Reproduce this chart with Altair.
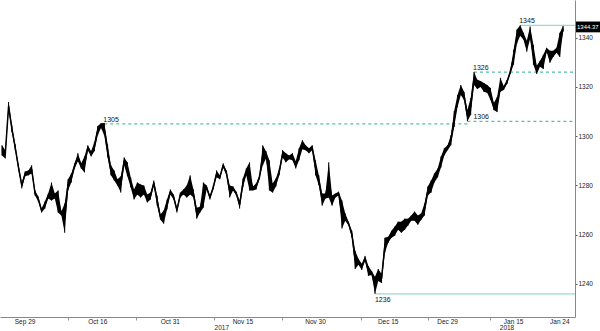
import altair as alt
import pandas as pd

# trading-session index (half-day steps; weekends/holidays removed)
session = [i / 2 for i in range(1, 172)]

high = [
    1296.3, 1294.3, 1313.9, 1304.5, 1296.7, 1288.6, 1281.2, 1285.7, 1286.1, 1288.2,
    1278.0, 1275.5, 1270.6, 1273.5, 1276.7, 1281.2, 1276.7, 1278.0, 1269.4, 1272.7,
    1282.5, 1284.9, 1289.0, 1293.1, 1289.0, 1291.8, 1296.3, 1293.9, 1297.6, 1304.1,
    1305.3, 1305.4, 1296.7, 1288.2, 1286.1, 1282.5, 1283.7, 1291.4, 1289.4, 1283.3,
    1278.4, 1281.2, 1280.4, 1280.0, 1276.3, 1277.1, 1282.0, 1275.9, 1268.2, 1269.8,
    1274.3, 1278.4, 1276.3, 1271.0, 1277.1, 1278.4, 1280.0, 1284.1, 1278.4, 1271.0,
    1271.4, 1281.2, 1280.0, 1275.9, 1280.0, 1286.1, 1284.1, 1289.0, 1286.1, 1280.0,
    1279.6, 1277.5, 1273.9, 1282.9, 1286.9, 1289.4, 1279.6, 1280.8, 1284.1, 1296.3,
    1293.9, 1290.2, 1280.8, 1282.9, 1286.9, 1294.3, 1293.1, 1292.2, 1293.1, 1289.8,
    1295.1, 1298.4, 1296.3, 1295.1, 1296.3, 1290.2, 1284.1, 1276.7, 1276.7, 1289.4,
    1275.9, 1276.7, 1277.5, 1273.9, 1268.6, 1265.3, 1261.6, 1253.5, 1250.2, 1248.2,
    1251.4, 1247.3, 1245.3, 1242.9, 1246.1, 1244.1, 1258.8, 1259.2, 1261.6, 1263.3,
    1265.3, 1265.3, 1266.5, 1266.5, 1267.8, 1269.4, 1267.8, 1268.6, 1272.7, 1279.6,
    1282.0, 1284.9, 1286.9, 1291.8, 1295.1, 1296.3, 1300.4, 1310.2, 1316.7, 1320.8,
    1318.0, 1310.6, 1315.5, 1326.1, 1322.9, 1322.4, 1321.6, 1320.8, 1319.6, 1313.5,
    1315.9, 1323.7, 1320.4, 1322.9, 1326.9, 1335.1, 1343.3, 1345.0, 1342.0, 1338.8,
    1344.5, 1337.1, 1328.6, 1330.6, 1333.1, 1335.9, 1334.7, 1334.7, 1335.9, 1342.0,
    1344.8,
]

low = [
    1292.2, 1291.0, 1310.6, 1301.6, 1294.3, 1286.1, 1278.8, 1283.7, 1284.1, 1284.9,
    1275.9, 1273.5, 1269.0, 1270.6, 1274.7, 1273.9, 1274.7, 1269.0, 1267.8, 1260.8,
    1278.0, 1281.2, 1286.9, 1289.8, 1286.9, 1285.3, 1294.3, 1291.8, 1293.9, 1300.4,
    1303.3, 1300.4, 1291.4, 1284.1, 1282.0, 1280.0, 1277.1, 1288.2, 1283.7, 1279.2,
    1274.3, 1276.3, 1275.1, 1276.3, 1273.1, 1274.3, 1280.0, 1271.8, 1266.1, 1264.5,
    1270.2, 1276.3, 1274.3, 1269.0, 1275.1, 1276.3, 1275.1, 1276.3, 1275.1, 1266.5,
    1269.0, 1271.0, 1278.4, 1274.3, 1278.4, 1283.3, 1282.5, 1287.3, 1284.1, 1275.1,
    1278.0, 1275.9, 1270.6, 1279.2, 1284.1, 1278.0, 1278.0, 1278.4, 1282.5, 1288.2,
    1291.0, 1278.0, 1277.1, 1279.6, 1284.1, 1291.4, 1289.4, 1290.6, 1290.2, 1286.9,
    1290.2, 1294.7, 1294.3, 1293.1, 1294.3, 1284.1, 1280.0, 1271.8, 1274.7, 1275.1,
    1271.8, 1275.1, 1275.9, 1262.5, 1265.7, 1263.7, 1258.8, 1246.1, 1247.8, 1245.7,
    1249.4, 1243.3, 1243.7, 1236.0, 1241.2, 1240.4, 1252.7, 1256.7, 1258.8, 1259.6,
    1262.0, 1260.8, 1262.0, 1263.7, 1265.7, 1265.7, 1264.1, 1266.1, 1267.8, 1275.9,
    1277.1, 1281.2, 1283.3, 1287.3, 1292.2, 1294.3, 1296.3, 1303.7, 1311.8, 1316.7,
    1314.7, 1306.1, 1308.6, 1320.8, 1319.2, 1320.0, 1318.0, 1317.6, 1314.7, 1310.6,
    1309.8, 1318.0, 1318.8, 1321.2, 1325.3, 1329.0, 1337.6, 1340.8, 1339.2, 1334.3,
    1339.6, 1329.0, 1325.3, 1328.2, 1327.3, 1334.3, 1329.8, 1332.2, 1333.9, 1332.2,
    1342.5,
]

last_price = 1344.37

# reference levels: value, label, start session, end session, style
level_value = [1345, 1326, 1306, 1305, 1236]
level_label = ["1345", "1326", "1306", "1305", "1236"]
level_start = [79.0, 72.0, 71.0, 16.0, 57.0]
level_end = [87.3, 87.3, 87.3, 71.0, 87.3]
level_dashed = [False, True, True, True, False]
level_place = ["above", "above", "above_right", "above", "below"]

tick_label_pos = [4, 15, 26, 37, 48, 59, 68, 78, 85]
tick_label_text = ["Sep 29", "Oct 16", "Oct 31", "Nov 15", "Nov 30", "Dec 15", "Dec 29", "Jan 15", "Jan 24"]
minor_tick_pos = [10.5, 20.8, 32.6, 42.9, 54.9, 65.0, 74.5]
year_pos = [33.8, 77.0]
year_text = ["2017", "2018"]

y_ticks = [1240, 1260, 1280, 1300, 1320, 1340]

W, H = 575, 317
FONT = "Liberation Sans"
X_DOMAIN = [0.2, 87.3]
Y_DOMAIN = [1226.6, 1355.3]

df = pd.DataFrame({"session": session, "high": high, "low": low})
df["mid"] = (df["high"] + df["low"]) / 2

levels = pd.DataFrame({
    "value": level_value, "label": level_label, "start": level_start,
    "end": level_end, "dashed": level_dashed, "place": level_place,
})
xlabels = pd.DataFrame({"pos": tick_label_pos, "text": tick_label_text})
years = pd.DataFrame({"pos": year_pos, "text": year_text})
lastdf = pd.DataFrame({"v": [last_price], "t": [f"{last_price:.2f}"]})

xscale = alt.Scale(domain=X_DOMAIN, nice=False, zero=False)
yscale = alt.Scale(domain=Y_DOMAIN, nice=False, zero=False)

xaxis = alt.Axis(
    values=minor_tick_pos, labels=False,
    title=None, grid=False, domainColor="#888", domainWidth=1,
    tickColor="#999", tickSize=3,
)
yaxis = alt.Axis(
    orient="right", values=y_ticks, format="d",
    title=None, grid=False, domainColor="#888", domainWidth=1,
    tickColor="#555", tickSize=2,
    labelFont=FONT, labelFontSize=6.5, labelColor="#222", labelPadding=1,
    labelOverlap=False, labelFlush=False,
)

base = alt.Chart(df)

band = base.mark_area(color="black", interpolate="linear").encode(
    x=alt.X("session:Q", scale=xscale, axis=xaxis),
    y=alt.Y("low:Q", scale=yscale, axis=yaxis),
    y2="high:Q",
)
bars = base.mark_rule(color="black", strokeWidth=1).encode(x="session:Q", y="low:Q", y2="high:Q")
midline = base.mark_line(color="black", strokeWidth=1.5, strokeJoin="round").encode(
    x="session:Q", y="mid:Q"
)

lev = alt.Chart(levels)
solid_lines = lev.transform_filter("!datum.dashed").mark_rule(
    color="#97dcc9", strokeWidth=1.2
).encode(x="start:Q", x2="end:Q", y="value:Q")
dashed_lines = lev.transform_filter("datum.dashed").mark_rule(
    color="#4fc2a6", strokeWidth=1.2, strokeDash=[3, 3]
).encode(x="start:Q", x2="end:Q", y="value:Q")
labels_above = lev.transform_filter("datum.place == 'above'").mark_text(
    align="left", baseline="bottom", dy=-1, dx=-1, font=FONT, fontSize=7, color="#111"
).encode(x="start:Q", y="value:Q", text="label:N")
labels_above_r = lev.transform_filter("datum.place == 'above_right'").mark_text(
    align="left", baseline="bottom", dy=-1, dx=6, font=FONT, fontSize=7, color="#111"
).encode(x="start:Q", y="value:Q", text="label:N")
labels_below = lev.transform_filter("datum.place == 'below'").mark_text(
    align="left", baseline="top", dy=2, dx=0, font=FONT, fontSize=7, color="#111"
).encode(x="start:Q", y="value:Q", text="label:N")

date_labels = alt.Chart(xlabels).mark_text(
    font=FONT, fontSize=6.5, color="#222", baseline="middle"
).encode(x="pos:Q", y=alt.value(H + 4.5), text="text:N")
year_labels = alt.Chart(years).mark_text(
    font=FONT, fontSize=6.5, color="#222", baseline="middle"
).encode(x="pos:Q", y=alt.value(H + 11), text="text:N")

box_shape = "M-1,-0.4L1,-0.4L1,0.4L-1,0.4Z"
last_box = alt.Chart(lastdf).mark_point(
    shape=box_shape, filled=True, color="black", opacity=1, size=729
).encode(x=alt.value(W + 14.5), y="v:Q")
last_text = alt.Chart(lastdf).mark_text(
    align="left", baseline="middle", font=FONT, fontSize=6, color="white", dx=0
).encode(x=alt.value(W + 2), y="v:Q", text="t:N")

chart = alt.layer(
    solid_lines, dashed_lines, band, bars, midline,
    labels_above, labels_above_r, labels_below, date_labels, year_labels,
    last_box, last_text,
).properties(
    width=W, height=H,
    autosize=alt.AutoSizeParams(type="none"),
    padding={"left": 0, "top": 0, "right": 25, "bottom": 14},
    background="white",
).configure_view(stroke=None)

chart.save("out.html", embed_options={"renderer": "svg", "actions": False})
